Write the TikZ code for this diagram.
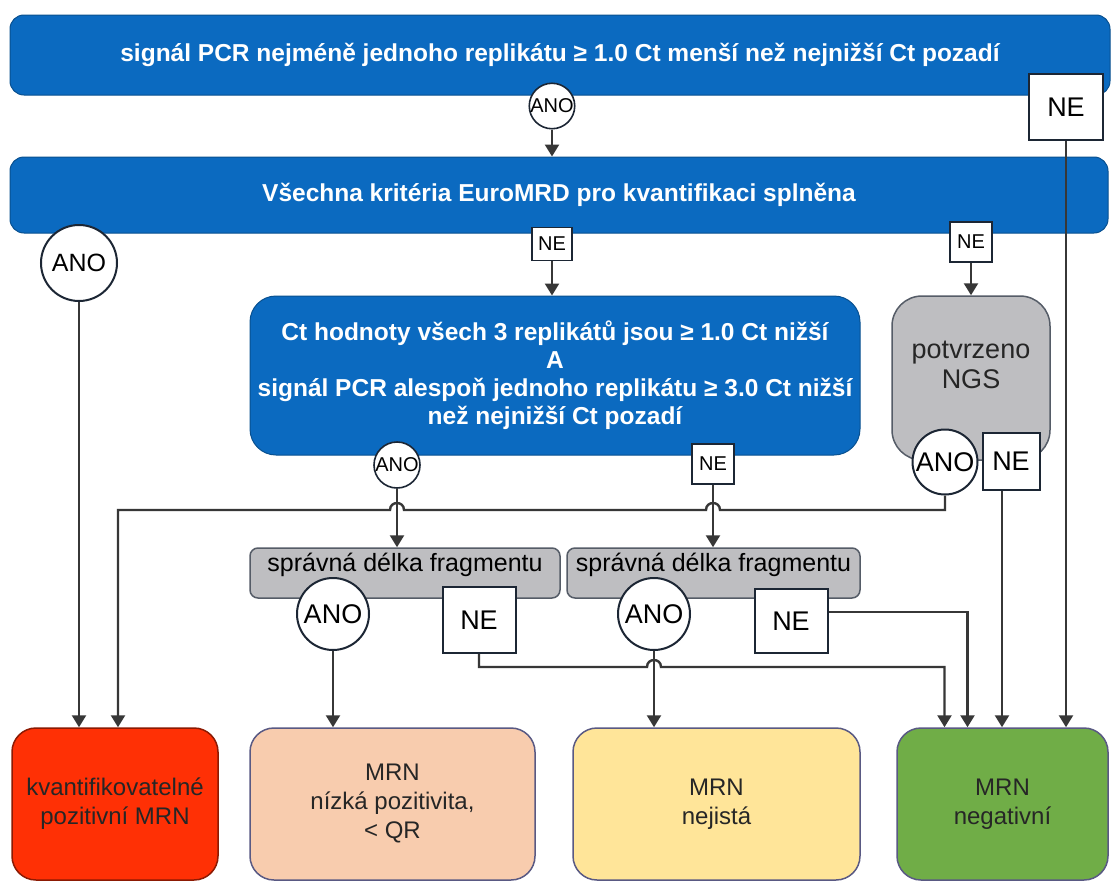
\documentclass[tikz,border=0pt]{standalone}
\usepackage{fontspec}
\setmainfont{Liberation Sans}
\usetikzlibrary{arrows.meta}
\definecolor{modra}{RGB}{11,106,192}
\definecolor{seda}{RGB}{190,190,193}
\definecolor{cervena}{RGB}{255,48,5}
\definecolor{broskev}{RGB}{248,204,174}
\definecolor{zluta}{RGB}{255,229,153}
\definecolor{zelena}{RGB}{112,173,71}
\definecolor{linka}{RGB}{55,55,55}
\definecolor{okraj}{RGB}{28,38,52}
\begin{document}
\begin{tikzpicture}[x=1pt,y=-1pt,
  krok/.style={draw=modra!75!black, line width=1pt, fill=modra, text=white, align=center, inner sep=0pt, font=\bfseries\fontsize{24.5}{28}\selectfont},
  sedy/.style={draw=okraj!75, line width=1.5pt, fill=seda, inner sep=0pt, font=\fontsize{25}{29}\selectfont},
  vysledek/.style={draw=black!45!blue!30!gray, line width=1.5pt, fill=#1, rounded corners=24pt, minimum height=152pt, align=center, inner sep=0pt, text=black!85, font=\fontsize{24}{29}\selectfont},
  popis/.style={draw=okraj, line width=2pt, fill=white, inner sep=0pt, font=\fontsize{27}{27}\selectfont},
  maly/.style={line width=1.6pt, font=\fontsize{20}{20}\selectfont},
  ano/.style={popis, circle, minimum size=#1},
  ne/.style 2 args={popis, minimum width=#1, minimum height=#2},
  sipka/.style={draw=linka, line width=2.4pt, -{Triangle[width=14pt,length=12pt]}}]
  \fill[white] (0,0) rectangle (1120,894);
  % rozhodovaci kroky
  \node[krok, rounded corners=14pt, minimum width=1100pt, minimum height=80pt] (signal) at (560,55)
    {sign\'al PCR nejm\'en\v{e} jednoho replik\'atu ≥ 1.0 Ct men\v{s}\'i ne\v{z} nejni\v{z}\v{s}\'i Ct pozad\'i};
  \node[krok, rounded corners=14pt, minimum width=1098pt, minimum height=76pt] (euro) at (559,195)
    {V\v{s}echna krit\'eria EuroMRD pro kvantifikaci spln\v{e}na};
  \node[krok, rounded corners=26pt, minimum width=610pt, minimum height=159pt] (ct) at (555,375.5)
    {Ct hodnoty v\v{s}ech 3 replik\'at\r{u} jsou ≥ 1.0 Ct ni\v{z}\v{s}\'i\\A\\sign\'al PCR alespo\v{n} jednoho replik\'atu ≥ 3.0 Ct ni\v{z}\v{s}\'i\\ne\v{z} nejni\v{z}\v{s}\'i Ct pozad\'i};
  \node[sedy, rounded corners=30pt, minimum width=158pt, minimum height=164pt] (ngs) at (971,378) {};
  \node[font=\fontsize{27}{30}\selectfont, align=center, text=black!85] (ngstext) at ([yshift=13pt]ngs.center) {potvrzeno\\NGS};
  \node[sedy, rounded corners=8pt, minimum width=310pt, minimum height=50pt, text height=16pt, text depth=20pt] (frag1) at (405,573) {spr\'avn\'a d\'elka fragmentu};
  \node[sedy, rounded corners=8pt, minimum width=293pt, minimum height=50pt, text height=16pt, text depth=20pt] (frag2) at (713.5,573) {spr\'avn\'a d\'elka fragmentu};
  % vysledky
  \node[vysledek=cervena, draw=cervena!55!black, minimum width=206pt] (kvant) at (115,804) {kvantifikovateln\'e\\pozitivn\'i MRN};
  \node[vysledek=broskev, minimum width=285pt] (nizka) at (392.5,804) {MRN\\n\'izk\'a pozitivita,\\< QR};
  \node[vysledek=zluta, minimum width=287pt] (nejista) at (716.5,804) {MRN\\nejist\'a};
  \node[vysledek=zelena, minimum width=211pt] (negativni) at (1002.5,804) {MRN\\negativn\'i};
  % ANO / NE
  \node[ano=44pt, maly] (ano1) at (552,106) {ANO};
  \node[ne={74pt}{66pt}] (ne1) at (1066,107) {NE};
  \node[ano=76pt, font=\fontsize{25}{25}\selectfont] (ano2) at (79,263) {ANO};
  \node[ne={40pt}{33pt}, maly] (ne2) at (552,244) {NE};
  \node[ne={42pt}{40pt}, maly] (ne3) at (971,242) {NE};
  \node[ano=46pt, maly] (ano3) at (397,465) {ANO};
  \node[ne={42pt}{40pt}, maly] (ne4) at (713,464) {NE};
  \node[ano=65pt] (ano4) at (945,462) {ANO};
  \node[ne={57pt}{57pt}] (ne5) at (1011,461) {NE};
  \node[ano=72pt] (ano5) at (333,614) {ANO};
  \node[ne={73pt}{66pt}] (ne6) at (479,620) {NE};
  \node[ano=72pt] (ano6) at (654,614) {ANO};
  \node[ne={73pt}{64pt}] (ne7) at (791,621) {NE};
  % spoje
  \draw[sipka] (ano1.south) -- (ano1.south |- euro.north);
  \draw[sipka] (ne1.south) -- (ne1.south |- negativni.north);
  \draw[sipka] (ano2.south) -- (ano2.south |- kvant.north);
  \draw[sipka] (ne2.south) -- (ne2.south |- ct.north);
  \draw[sipka] (ne3.south) -- (ne3.south |- ngs.north);
  \draw[sipka] (ano3.south) -- (ano3.south |- frag1.north);
  \draw[sipka] (ne4.south) -- (ne4.south |- frag2.north);
  \draw[sipka] (ano4.south) |- (720,510) .. controls (720,500.7) and (706,500.7) .. (706,510)
    -- (404,510) .. controls (404,500.7) and (390,500.7) .. (390,510) -| ([xshift=3pt]kvant.north);
  \draw[sipka] ([xshift=-9pt]ne5.south) -- ([xshift=-9pt]ne5.south |- negativni.north);
  \draw[sipka] (ano5.south) -- (ano5.south |- nizka.north);
  \draw[sipka] (ne6.south) |- (647,667) .. controls (647,657.7) and (661,657.7) .. (661,667)
    -| ([xshift=-58pt]negativni.north);
  \draw[sipka] (ano6.south) -- (ano6.south |- nejista.north);
  \draw[sipka] ([yshift=9pt]ne7.east) -| ([xshift=-35pt]negativni.north);
\end{tikzpicture}
\end{document}
